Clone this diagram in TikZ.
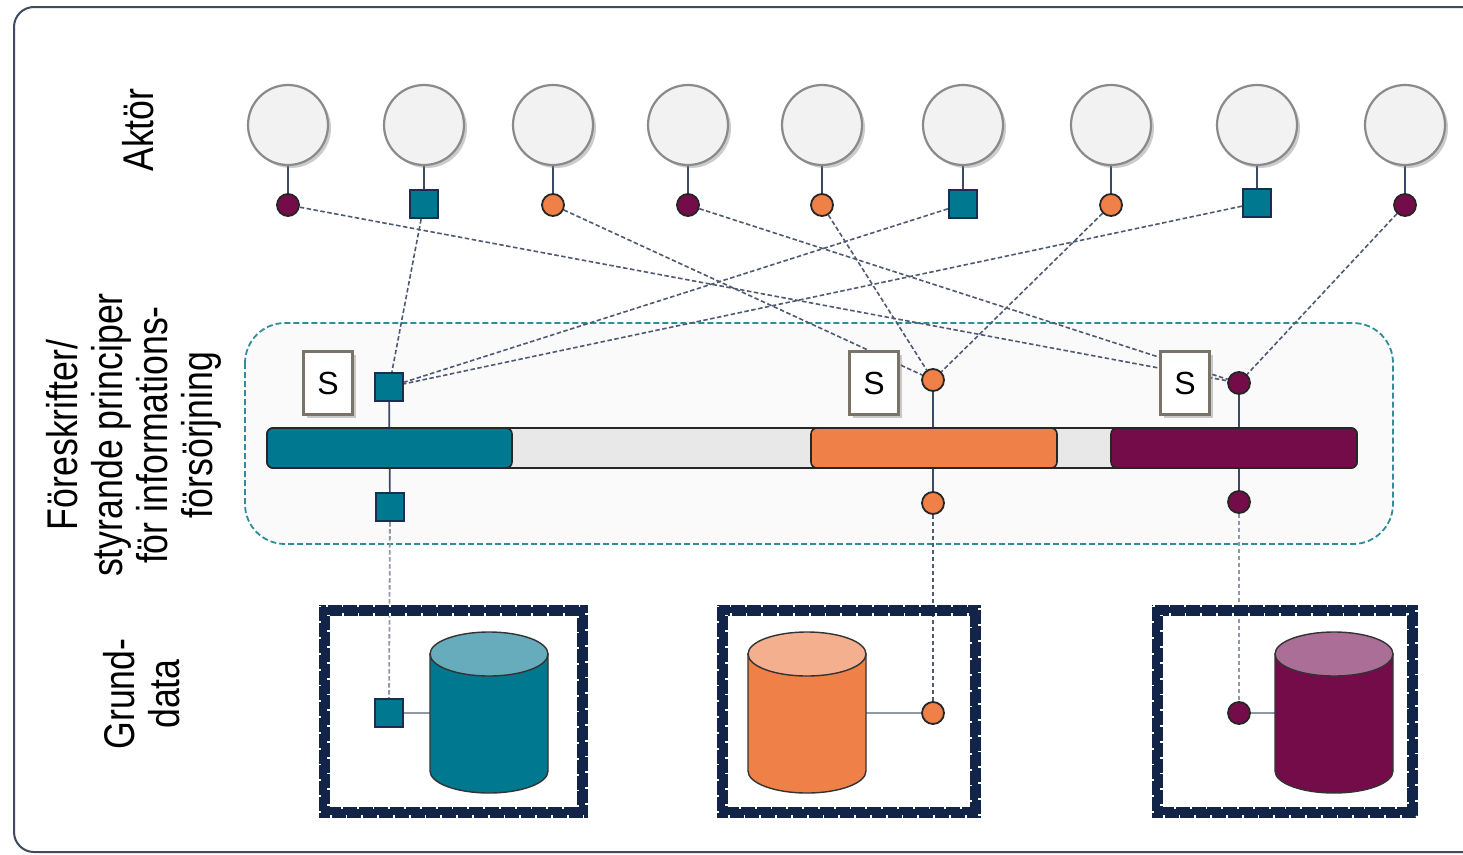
\documentclass[tikz,border=0pt]{standalone}
\usepackage{fontspec}
\setmainfont{Liberation Sans}
\newfontfamily\narrowfont[FakeStretch=0.83]{Liberation Sans}
\usetikzlibrary{shadows}
\definecolor{tealc}{HTML}{00788F}
\definecolor{tealtop}{HTML}{66ACBC}
\definecolor{orangec}{HTML}{EE8048}
\definecolor{orangetop}{HTML}{F4B08E}
\definecolor{purplec}{HTML}{750C4A}
\definecolor{purpletop}{HTML}{AB6E96}
\definecolor{navyc}{HTML}{122447}
\definecolor{markborder}{HTML}{1B2E52}
\definecolor{linec}{HTML}{3A4A66}
\definecolor{dashc}{HTML}{4E5A72}
\definecolor{lightdash}{HTML}{9098A8}
\definecolor{actorfill}{HTML}{F2F2F2}
\definecolor{actorborder}{HTML}{8A8A8A}
\definecolor{layerc}{HTML}{2E8C9C}
\definecolor{layerfill}{HTML}{FAFAFA}
\definecolor{framec}{HTML}{3E4A5E}
\definecolor{sborder}{HTML}{7A7468}
\definecolor{barfill}{HTML}{E8E8E8}
\pgfdeclarelayer{back}
\pgfdeclarelayer{lines}
\pgfsetlayers{back,lines,main}
\begin{document}
\begin{tikzpicture}[x=1pt,y=-1pt,
  actor/.style={circle, minimum size=80pt, inner sep=0pt, fill=actorfill, draw=actorborder, line width=2.2pt,
    drop shadow={shadow xshift=3pt, shadow yshift=-3pt, opacity=0.4}},
  tsq/.style={rectangle, minimum size=28pt, inner sep=0pt, fill=tealc, draw=markborder, line width=2.4pt},
  ocir/.style={circle, minimum size=22pt, inner sep=0pt, fill=orangec, draw=black!85, line width=1.8pt},
  pcir/.style={circle, minimum size=22pt, inner sep=0pt, fill=purplec, draw=black!85, line width=1.8pt},
  sbox/.style={rectangle, minimum width=49pt, minimum height=63pt, inner sep=0pt, fill=white, draw=sborder, line width=2.8pt,
    font=\fontsize{32}{34}\selectfont,
    drop shadow={shadow xshift=3pt, shadow yshift=-3pt, opacity=0.4}},
  solidln/.style={linec, line width=1.7pt},
  dashln/.style={dashc, line width=1.6pt, dash pattern=on 4.5pt off 2.5pt},
  greydash/.style={lightdash, line width=1.8pt, dash pattern=on 4.5pt off 2.5pt},
  dbline/.style={lightdash, line width=1.6pt},
  seg/.style={draw=black!85, line width=1.6pt, rounded corners=6pt},
  dbframe/.style={navyc, line width=11pt},
  notch/.style={white, line width=2.5pt, dash pattern=on 1.8pt off 14pt},
  cylb/.style={draw=black!80, line width=1.4pt},
  lab/.style={rotate=90, align=center, font=\narrowfont\fontsize{43}{45}\selectfont}
]
\useasboundingbox (0,0) rectangle (1463,854);

\begin{pgfonlayer}{back}
  \fill[white] (0,0) rectangle (1463,854);
  \draw[framec, line width=2pt, rounded corners=20pt] (14,7) rectangle (1520,852);
  \draw[layerc, line width=1.8pt, dash pattern=on 6pt off 3pt, fill=layerfill, rounded corners=40pt] (245,323) rectangle (1393,544);
\end{pgfonlayer}

% left labels
\node[lab] (labA) at (138,130) {Aktör};
\node[lab] (labF) at (134,435) {Föreskrifter/\\styrande principer\\för informations-\\försörjning};
\node[lab] (labG) at (142,694) {Grund-\\data};

% bar
\draw[seg, fill=barfill] (267,428) rectangle (1357,468);
\draw[seg, fill=tealc] (267,428) rectangle (512,468);
\draw[seg, fill=orangec] (811,428) rectangle (1057,468);
\draw[seg, fill=purplec] (1111,428) rectangle (1357,468);

% actors
\foreach \x [count=\i] in {288,424,553,688,822,963,1111,1257,1405}
  \node[actor] (a\i) at (\x,125) {};

% top markers
\node[pcir] (m1) at (288,205) {};
\node[tsq]  (m2) at (424,204) {};
\node[ocir] (m3) at (553,205) {};
\node[pcir] (m4) at (688,205) {};
\node[ocir] (m5) at (822,205) {};
\node[tsq]  (m6) at (963,204) {};
\node[ocir] (m7) at (1111,205) {};
\node[tsq]  (m8) at (1257,203) {};
\node[pcir] (m9) at (1405,205) {};

% layer markers
\node[tsq]  (lt) at (389,387) {};
\node[ocir] (lo) at (933,380) {};
\node[pcir] (lp) at (1239,383) {};
\node[tsq]  (bt) at (390,507) {};
\node[ocir] (bo) at (933,503) {};
\node[pcir] (bp) at (1239,502) {};

% S boxes
\node[sbox] (s1) at (328,383) {S};
\node[sbox] (s2) at (874,383) {S};
\node[sbox] (s3) at (1185,383) {S};

% DB frames
\foreach \l/\r [count=\k] in {324/582,722/975,1157/1412}{
  \draw[dbframe] (\l,610) rectangle (\r,812);
  \draw[notch] (\l-4.5,605.5) rectangle (\r+4.5,816.5);
  \draw[notch] (\l+4.5,614.5) rectangle (\r-4.5,807.5);
}

% cylinders
\foreach \cx/\bc/\tc/\nm in {489/tealc/tealtop/ct,807/orangec/orangetop/co,1334/purplec/purpletop/cp}{
  \draw[cylb, fill=\bc] (\cx-59,654) -- (\cx-59,771) arc[start angle=180, end angle=360, x radius=59pt, y radius=22pt] -- (\cx+59,654) -- cycle;
  \draw[cylb, fill=\tc] (\cx,654) ellipse [x radius=59pt, y radius=22pt];
}
\coordinate (ctL) at (430,713);
\coordinate (coR) at (866,713);
\coordinate (cpL) at (1275,713);

% DB markers
\node[tsq]  (dt) at (389,713) {};
\node[ocir] (do) at (933,713) {};
\node[pcir] (dp) at (1239,713) {};

\begin{pgfonlayer}{lines}
  \foreach \i in {1,...,9} \draw[solidln] (a\i) -- (m\i);
  \draw[dashln] (m1) -- (lp);
  \draw[dashln] (m4) -- (lp);
  \draw[dashln] (m9) -- (lp);
  \draw[dashln] (m2) -- (lt);
  \draw[dashln] (m6) -- (lt);
  \draw[dashln] (m8) -- (lt);
  \draw[dashln] (m3) -- (lo);
  \draw[dashln] (m5) -- (lo);
  \draw[dashln] (m7) -- (lo);
  \draw[solidln] (lt) -- (bt);
  \draw[solidln] (lo) -- (bo);
  \draw[solidln] (lp) -- (bp);
  \draw[greydash] (bt) -- (dt);
  \draw[dashln] (bo) -- (do);
  \draw[greydash] (bp) -- (dp);
  \draw[dbline] (dt) -- (ctL);
  \draw[dbline] (do) -- (coR);
  \draw[dbline] (dp) -- (cpL);
\end{pgfonlayer}
\end{tikzpicture}
\end{document}
